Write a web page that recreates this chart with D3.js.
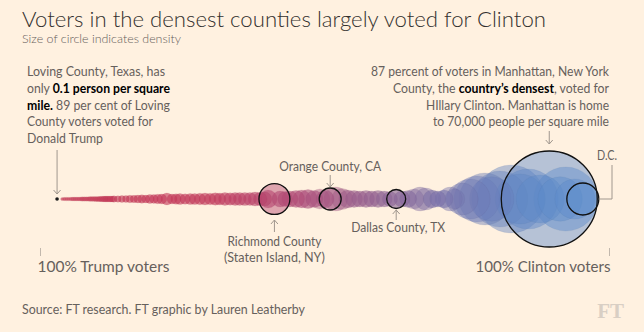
<!DOCTYPE html>
<html><head><meta charset="utf-8">
<script src="https://cdn.jsdelivr.net/npm/d3@7"></script>
<style>
body{margin:0;background:#fff1e0;}
svg{display:block;}
text{font-family:"Lato","Open Sans",sans-serif;}
</style></head><body>
<svg id="c" width="644" height="332"></svg>
<script>
// ---------- DATA ----------
// Clinton share (% of voters) for each county circle, read left to right
const clintonShare = [3.9,4.25,4.6,4.95,5.3,5.65,6.0,6.35,6.7,7.05,7.4,7.75,8.1,8.45,8.8,9.15,9.5,9.85,10.2,10.55,10.9,11.25,11.6,11.95,12.3,12.65,
 13.0,13.7,14.4,15.1,15.8,16.5,17.2,17.9,18.6,19.3,20.0,20.7,21.4,
 22.3,23.2,23.9,24.6,25.5,26.4,27.2,28.1,29.0,29.9,30.8,31.6,32.5,33.4,34.3,35.1,36.0,36.9,37.8,38.7,39.5,40.1,
 42.2,43.1,43.9,45.0,46.0,47.1,48.2,49.2,50.1,
 52.0,53.1,54.1,55.2,56.2,57.3,58.3,59.4,60.5,61.5,
 63.6,64.7,65.7,66.8,67.8,68.9,69.9,71.0,72.1,72.9,
 74.2,75.6,76.8,78.2,79.4,80.8,82.8,84.4,85.8,87.9,
 91.4,92.4,94.0];
// Population density (people per square mile) for each of those circles
const density = [5,8,12,12,12,16,20,20,20,26,32,32,32,40,46,50,54,58,63,72,82,92,104,104,104,116,
 128,141,169,155,216,200,250,288,250,348,327,414,461,
 736,461,511,591,511,619,591,676,736,676,799,736,864,799,898,864,932,898,1075,1002,1075,1944,
 1478,1268,1478,1703,1944,2202,1703,2475,1944,
 3728,2764,1944,1703,1478,1703,1478,1703,1478,1268,
 1478,1703,2475,3728,3070,1944,1478,1944,3728,2475,
 7000,11295,15190,19660,14060,22955,34380,18105,26510,16620,
 14060,30320,11295];
// Highlighted counties
const highlightNames = ["Loving County, TX","Richmond County, NY","Orange County, CA","Dallas County, TX","Manhattan, NY","D.C."];
const highlightShare = [3.0, 41.2, 51.0, 62.6, 89.5, 95.4];
const highlightDensity = [0.1, 6500, 3070, 2200, 70000, 7000];
// Axis
const axisDomain = [0, 100];
const axisLabels = ["100% Trump voters", "100% Clinton voters"];

// ---------- CHART ----------
const svg = d3.select("#c");
svg.append("rect").attr("width",644).attr("height",332).attr("fill","#fff1e0");

const x = d3.scaleLinear().domain(axisDomain).range([40, 609]);
const r = d3.scaleSqrt().domain([0, 70000]).range([1.2, 48]);
const color = d3.scaleLinear()
  .domain([0, 30, 45, 58, 72, 85, 100])
  .range(["#c5304f","#c23a5c","#b04c78","#94608f","#7574ae","#5f88c6","#5b8fd0"]);
const cy = 199;

const circles = clintonShare.map((s,i)=>({share:s, dens:density[i]}))
  .concat(highlightShare.map((s,i)=>({share:s, dens:highlightDensity[i], name:highlightNames[i]})));
circles.sort((a,b)=>b.dens-a.dens);

const cg = svg.append("g");
cg.selectAll("circle.c").data(circles.filter(d=>d.name!=="Loving County, TX")).join("circle")
  .attr("class","c")
  .attr("cx",d=>x(d.share)).attr("cy",cy).attr("r",d=>r(d.dens))
  .attr("fill",d=>color(d.share))
  .attr("fill-opacity",d=>r(d.dens)<10?0.62:0.45)
  .attr("stroke",d=>d3.color(color(d.share)).darker(0.6))
  .attr("stroke-opacity",0.18).attr("stroke-width",0.6);

// highlight outlines
const hl = highlightShare.map((s,i)=>({share:s, dens:highlightDensity[i], name:highlightNames[i]}));
cg.selectAll("circle.h").data(hl.filter(d=>d.name!=="Loving County, TX")).join("circle")
  .attr("class","h")
  .attr("cx",d=>x(d.share)).attr("cy",cy).attr("r",d=>r(d.dens))
  .attr("fill","none").attr("stroke","#111").attr("stroke-width",1.3);
// Loving county dot
cg.selectAll("circle.l").data(hl.filter(d=>d.name==="Loving County, TX")).join("circle")
  .attr("class","l")
  .attr("cx",d=>x(d.share)).attr("cy",cy).attr("r",1.8).attr("fill","#1a1a1a");

// ---------- AXIS ----------
const ag = svg.append("g").attr("transform","translate(0,248)")
  .call(d3.axisBottom(x).tickValues(axisDomain).tickSize(8).tickPadding(5).tickFormat((d,i)=>axisLabels[i]));
ag.select(".domain").remove();
ag.selectAll(".tick line").attr("stroke","#c2b8ad");
ag.selectAll(".tick text").attr("fill","#66605c").style("font-size","16px")
  .style("font-family","Lato, sans-serif")
  .attr("text-anchor",(d,i)=>i===0?"start":"end")
  .attr("dx",(d,i)=>i===0?-3:1)
  .attr("textLength",(d,i)=>i===0?132:135).attr("lengthAdjust","spacingAndGlyphs");

// ---------- TEXT ----------
function txt(t, px, py, opts){
  const el = svg.append("text").attr("x",px).attr("y",py)
    .attr("fill",opts.fill||"#66605c").style("font-size",(opts.size||13)+"px")
    .attr("text-anchor",opts.anchor||"start");
  if (opts.weight) el.style("font-weight",opts.weight);
  if (typeof t === "string") el.text(t);
  else t.forEach(seg=>el.append("tspan").text(seg[0]).attr("fill",seg[1]?"#000":null).style("font-weight",seg[1]?"bold":null));
  if (opts.w) el.attr("textLength",opts.w).attr("lengthAdjust","spacingAndGlyphs");
  return el;
}
txt("Voters in the densest counties largely voted for Clinton", 22, 27, {size:22, fill:"#33302e", w:524, weight:300});
txt("Size of circle indicates density", 22, 43, {size:12, w:159, weight:300});
txt("Source: FT research. FT graphic by Lauren Leatherby", 22, 314, {size:12.5, w:283});
svg.append("text").attr("x",624).attr("y",318).attr("text-anchor","end")
  .style("font-family","'Liberation Serif', serif").style("font-size","21px").style("font-weight","bold")
  .attr("fill","#d9cfc4").text("FT");

const leftLines = [
 [["Loving County, Texas, has",0]],
 [["only ",0],["0.1 person per square",1]],
 [["mile.",1],[" 89 per cent of Loving",0]],
 [["County voters voted for",0]],
 [["Donald Trump",0]]];
const leftW = [138,143,143,126,76];
leftLines.forEach((l,i)=>txt(l, 27, 76+i*16.8, {size:13, w:leftW[i]}));

const rightLines = [
 [["87 percent of voters in Manhattan, New York",0]],
 [["County, the ",0],["country’s densest",1],[", voted for",0]],
 [["HIllary Clinton. Manhattan is home",0]],
 [["to 70,000 people per square mile",0]]];
const rightW = [238,216,183,176];
rightLines.forEach((l,i)=>txt(l, 609, 76+i*16.8, {size:13, w:rightW[i], anchor:"end"}));

// county labels
txt("Orange County, CA", x(highlightShare[2]), 171, {size:12.5, anchor:"middle", w:102});
txt("Richmond County", x(highlightShare[1]), 246, {size:12.5, anchor:"middle", w:94});
txt("(Staten Island, NY)", x(highlightShare[1]), 262, {size:12.5, anchor:"middle", w:101});
txt("Dallas County, TX", x(highlightShare[3])+2, 232, {size:12.5, anchor:"middle", w:94});
txt("D.C.", 607, 160, {size:12.5, anchor:"middle", w:20});

// arrows
const ac = "#a0978e";
function arrow(ax, y1, y2){ // tip at y2
  const dir = y2>y1?1:-1;
  svg.append("path").attr("d",`M${ax},${y1}V${y2}M${ax-3.5},${y2-dir*4}L${ax},${y2}L${ax+3.5},${y2-dir*4}`)
    .attr("fill","none").attr("stroke",ac).attr("stroke-width",1);
}
arrow(x(highlightShare[0]), 150, 194);
arrow(x(highlightShare[4]), 131, 144);
arrow(x(highlightShare[2]), 175, 187);
arrow(x(highlightShare[1]), 232, 220);
arrow(x(highlightShare[3]), 220, 210);
const dcx = x(highlightShare[5]) + r(highlightDensity[5]);
svg.append("path").attr("d",`M612,165V${cy}H${dcx}`).attr("fill","none").attr("stroke",ac);
</script>
</body></html>
